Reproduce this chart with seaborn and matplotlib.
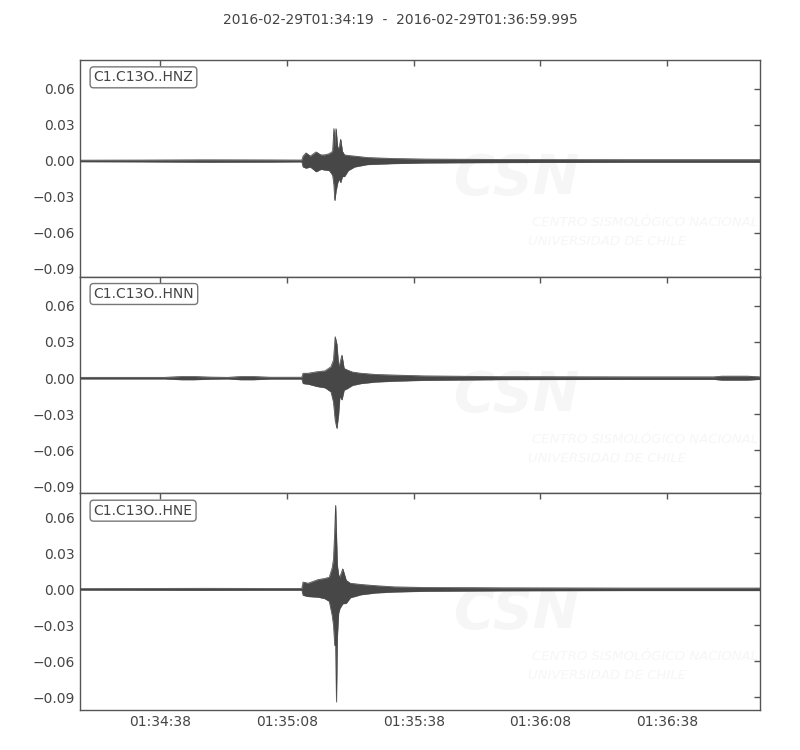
import numpy as np
import pandas as pd
import matplotlib
matplotlib.use("Agg")
import matplotlib.pyplot as plt
import matplotlib.dates as mdates
import seaborn as sns

# Three-component accelerogram, C1.C13O, drawn as min/max envelopes
START = pd.Timestamp("2016-02-29 01:34:19")
END_SEC = 160.995
TITLE = "2016-02-29T01:34:19  -  2016-02-29T01:36:59.995"

# seconds after START, upper envelope, lower envelope
hnz_t = [0, 15, 30, 45, 52.5, 52.8, 53.5, 54.5, 55.9, 57, 57.9, 59, 59.8, 60.1, 60.3, 60.6,
         61.0, 61.4, 61.7, 62.1, 62.6, 63.5, 65, 68, 74, 82, 100, 130, 161]
hnz_hi = [.0006, .0007, .0009, .0008, .0007, .004, .0067, .004, .0075, .005, .005, .006, .008,
          .027, .012, .027, .010, .012, .018, .008, .005, .0045, .004, .0028, .002, .0015,
          .0012, .001, .001]
hnz_lo = [-.0006, -.0007, -.0010, -.0009, -.0007, -.005, -.006, -.005, -.009, -.007, -.0075,
          -.008, -.012, -.020, -.033, -.025, -.018, -.015, -.018, -.013, -.013, -.008, -.005,
          -.003, -.0022, -.0016, -.0013, -.001, -.001]

hnn_t = [0, 20, 24, 27, 31, 35, 38, 41, 45, 52.5, 52.8, 54, 56.2, 58, 59.4, 60.0, 60.4, 60.8,
         61.2, 61.5, 62.0, 62.5, 63.3, 64.5, 66.5, 70, 74.4, 81.5, 100, 130, 150, 152, 158, 161]
hnn_hi = [.0006, .0006, .0013, .0013, .0008, .0006, .0013, .0013, .0007, .0007, .004, .004,
          .0053, .006, .0094, .015, .0344, .028, .010, .012, .019, .008, .0067, .005, .004,
          .003, .0025, .0018, .0012, .001, .001, .0016, .0016, .001]
hnn_lo = [-.0006, -.0006, -.0013, -.0013, -.0008, -.0006, -.0013, -.0013, -.0007, -.0007,
          -.0045, -.005, -.007, -.008, -.0114, -.020, -.035, -.0417, -.030, -.015, -.018,
          -.010, -.0086, -.006, -.0045, -.0032, -.0025, -.0018, -.0012, -.001, -.001, -.0016,
          -.0016, -.001]

hne_t = [0, 30, 45, 52.5, 52.8, 54, 56.3, 57.9, 59.0, 59.7, 60.0, 60.3, 60.5, 60.7, 60.9,
         61.2, 61.5, 62.2, 63.0, 64, 66.5, 70, 74.4, 81.5, 100, 130, 161]
hne_hi = [.0006, .0008, .0007, .0007, .006, .005, .008, .009, .010, .018, .025, .049, .070,
          .045, .020, .012, .010, .017, .0075, .005, .004, .003, .002, .0015, .0012, .001, .001]
hne_lo = [-.0006, -.0008, -.0007, -.0007, -.005, -.006, -.0065, -.0077, -.010, -.022, -.030,
          -.047, -.045, -.094, -.040, -.020, -.016, -.012, -.0117, -.007, -.0045, -.003,
          -.0022, -.0016, -.0012, -.001, -.001]

channels = ["C1.C13O..HNZ", "C1.C13O..HNN", "C1.C13O..HNE"]
traces = [(hnz_t, hnz_hi, hnz_lo), (hnn_t, hnn_hi, hnn_lo), (hne_t, hne_hi, hne_lo)]
ylims = [(-0.0967, 0.0842), (-0.0958, 0.0842), (-0.1008, 0.0800)]
yticks = [0.06, 0.03, 0.00, -0.03, -0.06, -0.09]

TRACE_COLOR = "#474747"
TEXT_COLOR = "#444444"
MARK_COLOR = "#f6f6f6"

sns.set_style("white")
plt.rcParams["font.family"] = ["DejaVu Sans"]
plt.rcParams["axes.unicode_minus"] = True

fig, axes = plt.subplots(3, 1, figsize=(8, 7.5), dpi=100, sharex=True)
fig.subplots_adjust(left=0.1, right=0.95, top=0.92, bottom=0.0533, hspace=0)

for ax, name, (t, hi, lo), ylim in zip(axes, channels, traces, ylims):
    df = pd.DataFrame({"time": START + pd.to_timedelta(t, unit="s"), "hi": hi, "lo": lo})

    # faint CSN watermark
    ax.text(0.55, 0.45, "CSN", transform=ax.transAxes, fontsize=40, fontweight="bold",
            fontstyle="italic", color=MARK_COLOR, va="center", ha="left", zorder=0)
    ax.text(0.665, 0.249, "CENTRO SISMOLÓGICO NACIONAL", transform=ax.transAxes,
            fontsize=9.5, fontstyle="italic", color=MARK_COLOR, va="center", zorder=0,
            clip_on=True)
    ax.text(0.659, 0.161, "UNIVERSIDAD DE CHILE", transform=ax.transAxes,
            fontsize=9.5, fontstyle="italic", color=MARK_COLOR, va="center", zorder=0,
            clip_on=True)

    ax.fill_between(df["time"], df["lo"], df["hi"], color=TRACE_COLOR, linewidth=0.3, zorder=2)
    sns.lineplot(data=df, x="time", y="hi", ax=ax, color=TRACE_COLOR, linewidth=0.5, zorder=3)
    sns.lineplot(data=df, x="time", y="lo", ax=ax, color=TRACE_COLOR, linewidth=0.5, zorder=3)

    ax.set_ylim(*ylim)
    ax.set_yticks(yticks)
    ax.set_yticklabels([f"{v:.2f}".replace("-", "\u2212") for v in yticks])
    ax.set_xlabel("")
    ax.set_ylabel("")

    ax.text(0.02, 0.92, name, transform=ax.transAxes, fontsize=10, color=TEXT_COLOR,
            ha="left", va="center", zorder=5,
            bbox=dict(boxstyle="round,pad=0.25", facecolor="white", edgecolor="#777777",
                      linewidth=1))

    for sp in ax.spines.values():
        sp.set_visible(True)
        sp.set_color("#555555")
        sp.set_linewidth(1)
    ax.tick_params(direction="in", top=True, right=True, length=4, width=1,
                   color="#555555", labelcolor=TEXT_COLOR, labelsize=10)

axes[-1].set_xlim(START, START + pd.to_timedelta(END_SEC, unit="s"))
axes[-1].xaxis.set_major_locator(mdates.SecondLocator(bysecond=[8, 38]))
axes[-1].xaxis.set_major_formatter(mdates.DateFormatter("%H:%M:%S"))

fig.suptitle(TITLE, y=0.973, va="center", fontsize=10, color=TEXT_COLOR)

fig.savefig("out.png", dpi=100)
